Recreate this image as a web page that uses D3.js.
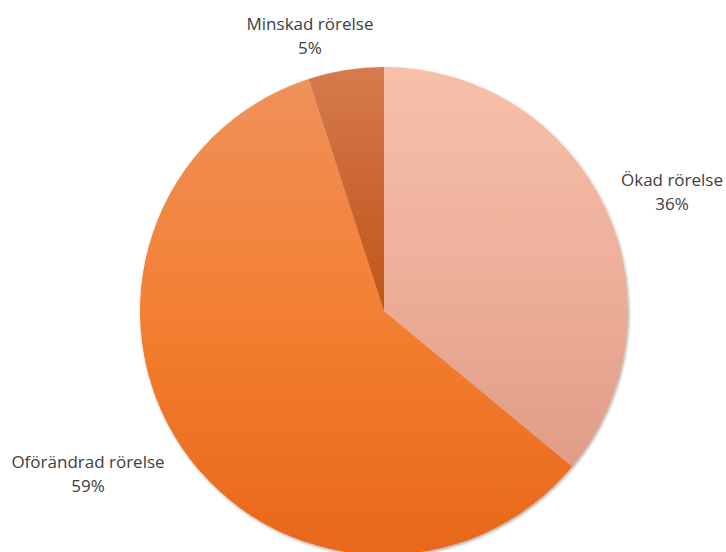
<!DOCTYPE html>
<html>
<head>
<meta charset="utf-8">
<script src="https://cdn.jsdelivr.net/npm/d3@7"></script>
<style>
  html, body { margin: 0; padding: 0; background: #fff; }
  svg { display: block; }
</style>
</head>
<body>
<svg id="chart" width="726" height="552"></svg>
<script>
// Slice data, clockwise from twelve o'clock
const categories = ["Ökad rörelse", "Oförändrad rörelse", "Minskad rörelse"];
const values = [36, 59, 5];
const gradientTops = ["#f7c0a9", "#f0915a", "#d67b4f"];
const gradientMids = ["#eeb09a", "#f37f31", "#cb6632"];
const gradientBottoms = ["#e09c86", "#e8671a", "#c0561a"];
// Label anchor points (first baseline of the two-line label block) per slice
const labelX = [672, 88, 310];
const labelY = [186, 468, 30];

const width = 726, height = 552;
const cx = 384, cy = 311, radius = 244;

const svg = d3.select("#chart");
const defs = svg.append("defs");

const shadow = defs.append("filter")
  .attr("id", "pieShadow")
  .attr("x", "-10%").attr("y", "-10%")
  .attr("width", "120%").attr("height", "120%");
shadow.append("feDropShadow")
  .attr("dx", 1).attr("dy", 1.5)
  .attr("stdDeviation", 1.8)
  .attr("flood-color", "#000")
  .attr("flood-opacity", 0.35);

categories.forEach((c, i) => {
  const g = defs.append("linearGradient")
    .attr("id", "grad" + i)
    .attr("x1", 0).attr("y1", 0).attr("x2", 0).attr("y2", 1);
  g.append("stop").attr("offset", "0%").attr("stop-color", gradientTops[i]);
  g.append("stop").attr("offset", "50%").attr("stop-color", gradientMids[i]);
  g.append("stop").attr("offset", "100%").attr("stop-color", gradientBottoms[i]);
});

const pie = d3.pie().sort(null).value(d => d.value);
const arc = d3.arc().innerRadius(0).outerRadius(radius);

const data = categories.map((c, i) => ({ name: c, value: values[i], idx: i }));
const arcs = pie(data);

const gPie = svg.append("g")
  .attr("transform", `translate(${cx},${cy})`)
  .attr("filter", "url(#pieShadow)");

gPie.selectAll("path")
  .data(arcs)
  .join("path")
  .attr("d", arc)
  .attr("fill", d => `url(#grad${d.data.idx})`);

const total = d3.sum(values);
const fmt = v => Math.round(v / total * 100) + "%";

const labels = svg.append("g")
  .attr("font-family", "'Open Sans', sans-serif")
  .attr("font-size", 17)
  .attr("fill", "#404040")
  .attr("text-anchor", "middle");

arcs.forEach(d => {
  const i = d.data.idx;
  const t = labels.append("text")
    .attr("x", labelX[i])
    .attr("y", labelY[i]);
  t.append("tspan").attr("x", labelX[i]).attr("dy", 0).text(d.data.name);
  t.append("tspan").attr("x", labelX[i]).attr("dy", 24).text(fmt(d.data.value));
});
</script>
</body>
</html>
